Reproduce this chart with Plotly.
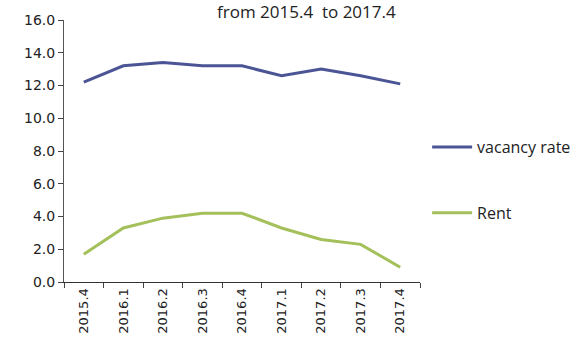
import plotly.graph_objects as go

quarters = ["2015.4", "2016.1", "2016.2", "2016.3", "2016.4", "2017.1", "2017.2", "2017.3", "2017.4"]
vacancy_rate = [12.2, 13.2, 13.4, 13.2, 13.2, 12.6, 13.0, 12.6, 12.1]
rent = [1.7, 3.3, 3.9, 4.2, 4.2, 3.3, 2.6, 2.3, 0.9]
y_ticks = [0, 2, 4, 6, 8, 10, 12, 14, 16]
title_text = "from 2015.4  to 2017.4"

fig = go.Figure()
fig.add_trace(go.Scatter(x=quarters, y=vacancy_rate, mode="lines", name="vacancy rate",
                         line=dict(color="#4b5596", width=3), legendgroup="a"))
fig.add_trace(go.Scatter(x=quarters, y=rent, mode="lines", name="Rent",
                         line=dict(color="#a4c05a", width=3), legendgroup="b"))

fig.add_annotation(x=quarters[-1], y=vacancy_rate[-1], text=f"{vacancy_rate[-1]:.1f}", showarrow=False,
                   xanchor="left", xshift=20, font=dict(family="Open Sans", size=16, color="#111"))
fig.add_annotation(x=quarters[-1], y=rent[-1], text=f"{rent[-1]:.1f}", showarrow=False,
                   xanchor="left", xshift=20, yshift=-3, font=dict(family="Open Sans", size=16, color="#111"))
fig.add_annotation(x=0.68, xref="paper", y=1.0, yref="paper", yshift=22, text=title_text, showarrow=False,
                   xanchor="center", yanchor="top", font=dict(family="Open Sans", size=17, color="#222"))

fig.update_layout(
    width=588, height=350,
    margin=dict(l=64, r=168, t=20, b=68),
    paper_bgcolor="white", plot_bgcolor="white",
    showlegend=True,
    legend=dict(x=1.02, y=0.58, xanchor="left", yanchor="top", traceorder="grouped", tracegroupgap=42,
                font=dict(family="Open Sans", size=16, color="#222"), itemwidth=40,
                bgcolor="rgba(0,0,0,0)"),
)
fig.update_xaxes(type="category", range=[-0.5, 8.5], tickson="boundaries", ticks="outside", ticklen=5,
                 showline=True, linecolor="#333", linewidth=1, tickangle=-90,
                 tickfont=dict(family="DejaVu Sans", size=13, color="#222"), showgrid=False)
fig.update_yaxes(range=[0, 16], tickvals=y_ticks, tickformat=".1f", ticks="outside", ticklen=5,
                 showline=True, linecolor="#555", linewidth=1, showgrid=False, zeroline=False,
                 tickfont=dict(family="DejaVu Sans", size=14, color="#222"))

fig.write_html("out.html")
